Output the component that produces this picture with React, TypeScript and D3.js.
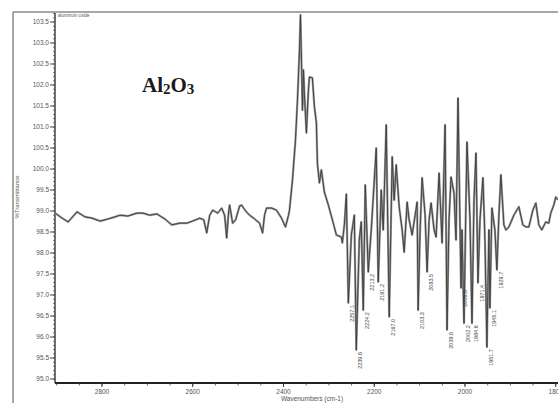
import React from "react";
import * as d3 from "d3";

const wavenumbers = [
  2903.3, 2887.9, 2874.7, 2854.9, 2837.4, 2822.0, 2804.4, 2786.8, 2771.4, 2760.4,
  2742.9, 2723.1, 2709.9, 2694.5, 2679.1, 2661.5, 2646.2, 2628.6, 2613.2, 2600.0,
  2584.6, 2575.8, 2569.2, 2562.6, 2556.0, 2545.1, 2536.3, 2529.7, 2525.3, 2520.9,
  2518.7, 2512.1, 2505.5, 2496.7, 2492.3, 2483.5, 2474.7, 2463.7, 2452.7, 2446.1,
  2441.8, 2437.4, 2426.4, 2415.4, 2404.4, 2395.6, 2389.0, 2386.8, 2380.2, 2373.6,
  2369.2, 2364.8, 2362.6, 2360.4, 2358.2, 2356.0, 2353.8, 2349.5, 2345.1, 2342.9,
  2336.3, 2331.9, 2327.5, 2325.3, 2320.9, 2316.5, 2309.9, 2301.1, 2292.3, 2283.5,
  2272.5, 2270.3, 2265.9, 2261.5, 2257.1, 2250.5, 2243.9, 2239.6, 2233.0, 2228.6,
  2224.2, 2219.8, 2213.2, 2206.6, 2195.6, 2191.2, 2184.6, 2180.2, 2173.6, 2167.0,
  2160.4, 2156.0, 2151.6, 2145.1, 2138.5, 2134.1, 2127.5, 2123.1, 2116.5, 2109.9,
  2105.5, 2103.3, 2098.9, 2094.5, 2087.9, 2083.5, 2079.1, 2074.7, 2068.1, 2063.7,
  2057.1, 2050.5, 2043.9, 2039.6, 2035.2, 2030.8, 2024.2, 2019.8, 2015.4, 2008.8,
  2006.6, 2002.2, 1997.8, 1995.6, 1989.0, 1984.6, 1980.2, 1975.8, 1971.4, 1967.0,
  1960.4, 1956.0, 1951.7, 1947.3, 1945.1, 1940.7, 1934.1, 1929.7, 1925.3, 1920.9,
  1914.3, 1909.9, 1903.3, 1892.3, 1881.3, 1872.5, 1865.9, 1859.3, 1850.5, 1843.9,
  1837.3, 1830.8, 1822.0, 1815.4, 1811.0, 1804.4, 1800.0, 1793.4,
];

const transmittance = [
  98.95, 98.83, 98.74, 98.98, 98.86, 98.83, 98.76, 98.81, 98.86, 98.90,
  98.88, 98.95, 98.95, 98.90, 98.93, 98.81, 98.67, 98.71, 98.71, 98.76,
  98.83, 98.79, 98.48, 98.90, 99.02, 98.95, 99.07, 98.90, 98.36, 98.98,
  99.14, 98.71, 98.79, 99.12, 99.14, 99.00, 98.90, 98.81, 98.71, 98.48,
  98.90, 99.07, 99.07, 99.02, 98.83, 98.62, 98.90, 99.02, 99.74, 100.69,
  101.64, 102.83, 103.67, 102.60, 101.40, 102.36, 101.76, 100.86, 101.88, 102.19,
  102.17, 101.48, 101.10, 100.14, 99.67, 99.98, 99.45, 99.14, 98.79, 98.43,
  98.38, 98.24, 98.67, 99.40, 96.81, 98.43, 98.90, 95.69, 98.31, 98.74,
  96.64, 99.62, 97.55, 98.55, 100.50, 97.31, 99.50, 98.55, 101.05, 96.48,
  100.29, 99.26, 100.10, 99.10, 98.55, 98.02, 99.21, 98.79, 98.43, 98.90,
  99.21, 96.64, 98.55, 99.79, 98.90, 97.55, 98.79, 99.19, 98.55, 98.38,
  99.90, 98.24, 101.05, 96.17, 98.79, 99.81, 99.43, 98.31, 101.69, 97.17,
  98.55, 96.33, 99.26, 100.64, 98.79, 96.33, 99.26, 100.38, 97.29, 98.79,
  99.79, 98.31, 95.76, 98.55, 96.69, 99.07, 98.55, 97.60, 98.90, 99.86,
  98.67, 98.55, 98.62, 98.90, 99.10, 98.67, 98.62, 98.62, 99.02, 99.19,
  98.67, 98.55, 98.74, 98.71, 98.95, 99.14, 99.33, 99.26,
];

const peakWavenumbers = [
  2257.1, 2239.6, 2224.2, 2213.2, 2191.2, 2167.0, 2103.3, 2083.5,
  2039.6, 2008.8, 2002.2, 1984.6, 1971.4, 1951.7, 1945.1, 1929.7,
];
const peakValues = [
  96.81, 95.69, 96.64, 97.55, 97.31, 96.48, 96.64, 97.55,
  96.17, 97.17, 96.33, 96.33, 97.29, 95.76, 96.69, 97.60,
];
const peakLabels = [
  "2257.1", "2239.6", "2224.2", "2213.2", "2191.2", "2167.0", "2103.3", "2083.5",
  "2039.6", "2008.8", "2002.2", "1984.6", "1971.4", "1951.7", "1945.1", "1929.7",
];

const xTickValues = [2800, 2600, 2400, 2200, 2000, 1800];
const yTickValues = d3.range(0, 18).map((i) => 95 + i * 0.5);

export default function App() {
  const W = 558;
  const H = 403;
  const left = 55;
  const right = 562;
  const top = 13;
  const bottom = 383;

  const x = d3.scaleLinear().domain([2800, 2000]).range([102, 465]);
  const y = d3.scaleLinear().domain([95, 103.5]).range([379, 22]);

  const pts = wavenumbers.map((w, i) => [w, transmittance[i]] as [number, number]);
  const line = d3
    .line<[number, number]>()
    .x((d) => x(d[0]))
    .y((d) => y(d[1]))
    .curve(d3.curveLinear);

  const minorX = d3.range(1750, 2950, 50).filter((v) => x(v) >= left && x(v) <= W);
  const minorY = d3.range(0, 88).map((i) => 95 + i * 0.1);

  return (
    <svg
      width={W}
      height={H}
      style={{ position: "absolute", left: 0, top: 0, background: "#fff" }}
      fontFamily="Liberation Sans, Arial, sans-serif"
    >
      <defs>
        <clipPath id="plotclip">
          <rect x={left} y={top} width={right - left} height={bottom - top} />
        </clipPath>
      </defs>
      <rect x={0} y={0} width={W} height={H} fill="#fff" />
      {/* outer frame */}
      <line x1={13} y1={12} x2={W} y2={12} stroke="#8a8a8a" strokeWidth={1.5} />
      <line x1={13} y1={12} x2={13} y2={H} stroke="#8a8a8a" strokeWidth={1.5} />

      {/* y axis */}
      <line x1={left} y1={top} x2={left} y2={bottom} stroke="#333" strokeWidth={1.4} />
      {minorY.map((v, i) => (
        <line key={"my" + i} x1={left - 2} x2={left} y1={y(v)} y2={y(v)} stroke="#555" strokeWidth={0.8} />
      ))}
      {yTickValues.map((v) => (
        <g key={"yt" + v}>
          <line x1={left - 5} x2={left} y1={y(v)} y2={y(v)} stroke="#444" strokeWidth={1} />
          <text x={left - 6} y={y(v) + 2.3} fontSize={6.5} textAnchor="end" fill="#555">
            {d3.format(".1f")(v)}
          </text>
        </g>
      ))}
      <text
        transform={`translate(19,197) rotate(-90)`}
        fontSize={6}
        textAnchor="middle"
        fill="#555"
      >
        %Transmittance
      </text>

      {/* x axis */}
      <line x1={left} y1={bottom} x2={W} y2={bottom} stroke="#222" strokeWidth={2} />
      {minorX.map((v) => (
        <line key={"mx" + v} x1={x(v)} x2={x(v)} y1={bottom} y2={bottom + 2.5} stroke="#444" strokeWidth={0.8} />
      ))}
      {xTickValues.map((v) => (
        <g key={"xt" + v}>
          <line x1={x(v)} x2={x(v)} y1={bottom} y2={bottom + 4} stroke="#333" strokeWidth={1} />
          <text x={x(v)} y={bottom + 11} fontSize={6.5} textAnchor="middle" fill="#555">
            {v}
          </text>
        </g>
      ))}
      <text x={312} y={401} fontSize={6.5} textAnchor="middle" fill="#555">
        Wavenumbers (cm-1)
      </text>

      {/* spectrum */}
      <g clipPath="url(#plotclip)">
        <path d={line(pts) || ""} fill="none" stroke="#9a9a9a" strokeWidth={2.2} strokeLinejoin="round" />
        <path d={line(pts) || ""} fill="none" stroke="#3a3a3a" strokeWidth={0.9} strokeLinejoin="round" />
      </g>

      {/* peak labels */}
      {peakWavenumbers.map((w, i) => (
        <text
          key={"pl" + i}
          transform={`translate(${x(w) + 6},${y(peakValues[i]) + 2}) rotate(-90)`}
          fontSize={5.5}
          textAnchor="end"
          fill="#444"
        >
          {peakLabels[i]}
        </text>
      ))}

      <text x={58} y={17} fontSize={4.5} fill="#555">
        aluminum oxide
      </text>

      <text x={142} y={92} fontFamily="Liberation Serif, Times New Roman, serif" fontWeight="bold" fontSize={21} fill="#1a1a1a">
        Al
        <tspan fontSize={15} dy={2}>2</tspan>
        <tspan dy={-2}>O</tspan>
        <tspan fontSize={15} dy={2}>3</tspan>
      </text>
    </svg>
  );
}
